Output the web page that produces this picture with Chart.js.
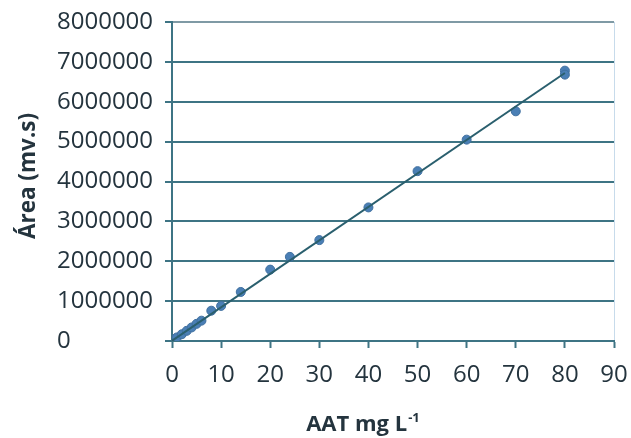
<!DOCTYPE html>
<html>
<head>
<meta charset="utf-8">
<script src="https://cdn.jsdelivr.net/npm/chart.js@4/dist/chart.umd.min.js"></script>
<style>
  html, body { margin: 0; padding: 0; background: #ffffff; }
  #wrap { width: 631px; height: 438px; position: relative; }
</style>
</head>
<body>
<div id="wrap"><canvas id="c" width="631" height="438"></canvas></div>
<script>
// Concentration (AAT mg L-1) and peak area (mv.s)
const concentrations = [0, 0.5, 1, 2, 3, 4, 5, 6, 8, 10, 14, 20, 24, 30, 40, 50, 60, 70, 80, 80];
const areas = [0, 45000, 90000, 170000, 255000, 340000, 430000, 510000, 760000, 880000, 1230000, 1790000, 2110000, 2530000, 3350000, 4260000, 5050000, 5760000, 6780000, 6680000];
// Trend line end points
const trendX = [0, 80];
const trendY = [5000, 6720000];
// Axis ticks
const xTickValues = [0, 10, 20, 30, 40, 50, 60, 70, 80, 90];
const yTickValues = [0, 1000000, 2000000, 3000000, 4000000, 5000000, 6000000, 7000000, 8000000];
const xTitle = "AAT mg L";
const xTitleSup = "-1";
const yTitle = "Área (mv.s)";

const pointData = concentrations.map((x, i) => ({ x: x, y: areas[i] }));
const trendData = trendX.map((x, i) => ({ x: x, y: trendY[i] }));

const teal = '#3e7484';
const textColor = '#24343e';
const FONT = "'Open Sans', Lato, sans-serif";

const titlesPlugin = {
  id: 'axisTitles',
  afterDraw(chart) {
    const ctx = chart.ctx;
    const xs = chart.scales.x;
    ctx.save();
    ctx.fillStyle = textColor;
    // x title
    ctx.font = 'bold 22px ' + FONT;
    const mainW = ctx.measureText(xTitle).width;
    ctx.font = 'bold 13px ' + FONT;
    const supW = ctx.measureText(xTitleSup).width;
    const cx = xs.left + (xs.right - xs.left) * 0.432;
    const startX = cx - (mainW + supW + 1) / 2;
    const baseY = 431;
    ctx.textBaseline = 'alphabetic';
    ctx.textAlign = 'left';
    ctx.font = 'bold 22px ' + FONT;
    ctx.fillText(xTitle, startX, baseY);
    ctx.font = 'bold 13px ' + FONT;
    ctx.fillText(xTitleSup, startX + mainW + 1, baseY - 9);
    // y title
    ctx.font = 'bold 22.5px ' + FONT;
    ctx.translate(29, 176);
    ctx.rotate(-Math.PI / 2);
    ctx.textAlign = 'center';
    ctx.textBaseline = 'middle';
    ctx.fillText(yTitle, 0, 0);
    ctx.restore();
  }
};

new Chart(document.getElementById('c'), {
  type: 'scatter',
  data: {
    datasets: [
      {
        label: 'Tendencia',
        data: trendData,
        showLine: true,
        borderColor: '#2a5f6e',
        borderWidth: 2,
        pointRadius: 0,
        fill: false,
        order: 0
      },
      {
        label: 'Área',
        data: pointData,
        showLine: false,
        backgroundColor: '#4a7fb5',
        borderColor: '#3f6f9f',
        borderWidth: 1,
        pointRadius: 4.5,
        order: 1
      }
    ]
  },
  options: {
    responsive: false,
    animation: false,
    devicePixelRatio: 1,
    layout: { padding: { left: 57, top: 22, right: 17, bottom: 0 } },
    plugins: {
      legend: { display: false },
      tooltip: { enabled: false },
      title: { display: false }
    },
    scales: {
      x: {
        type: 'linear',
        min: 0,
        max: 90,
        afterBuildTicks: s => { s.ticks = xTickValues.map(v => ({ value: v })); },
        afterFit: s => { s.height = 97; s.paddingLeft = 0; s.paddingRight = 0; },
        ticks: {
          color: textColor,
          font: { family: FONT, size: 24 },
          padding: 13,
          callback: v => String(v)
        },
        grid: {
          drawOnChartArea: true,
          drawTicks: true,
          tickLength: 7,
          tickColor: teal,
          tickWidth: 2,
          lineWidth: 1,
          color: c => (c.tick && c.tick.value === 90) ? 'rgba(185,210,230,0.8)' : 'rgba(0,0,0,0)'
        },
        border: { display: true, color: teal, width: 2 }
      },
      y: {
        type: 'linear',
        min: 0,
        max: 8000000,
        afterBuildTicks: s => { s.ticks = yTickValues.map(v => ({ value: v })); },
        afterFit: s => { s.width = 115; s.paddingTop = 0; s.paddingBottom = 0; },
        ticks: {
          color: textColor,
          font: { family: FONT, size: 24 },
          crossAlign: 'far',
          padding: 4,
          callback: v => String(v)
        },
        grid: {
          drawOnChartArea: true,
          drawTicks: true,
          tickLength: 7,
          tickColor: teal,
          tickWidth: 2,
          lineWidth: 2,
          color: c => (c.tick && c.tick.value === 8000000) ? '#7f9aa5' : teal
        },
        border: { display: true, color: teal, width: 2 }
      }
    }
  },
  plugins: [titlesPlugin]
});
</script>
</body>
</html>
